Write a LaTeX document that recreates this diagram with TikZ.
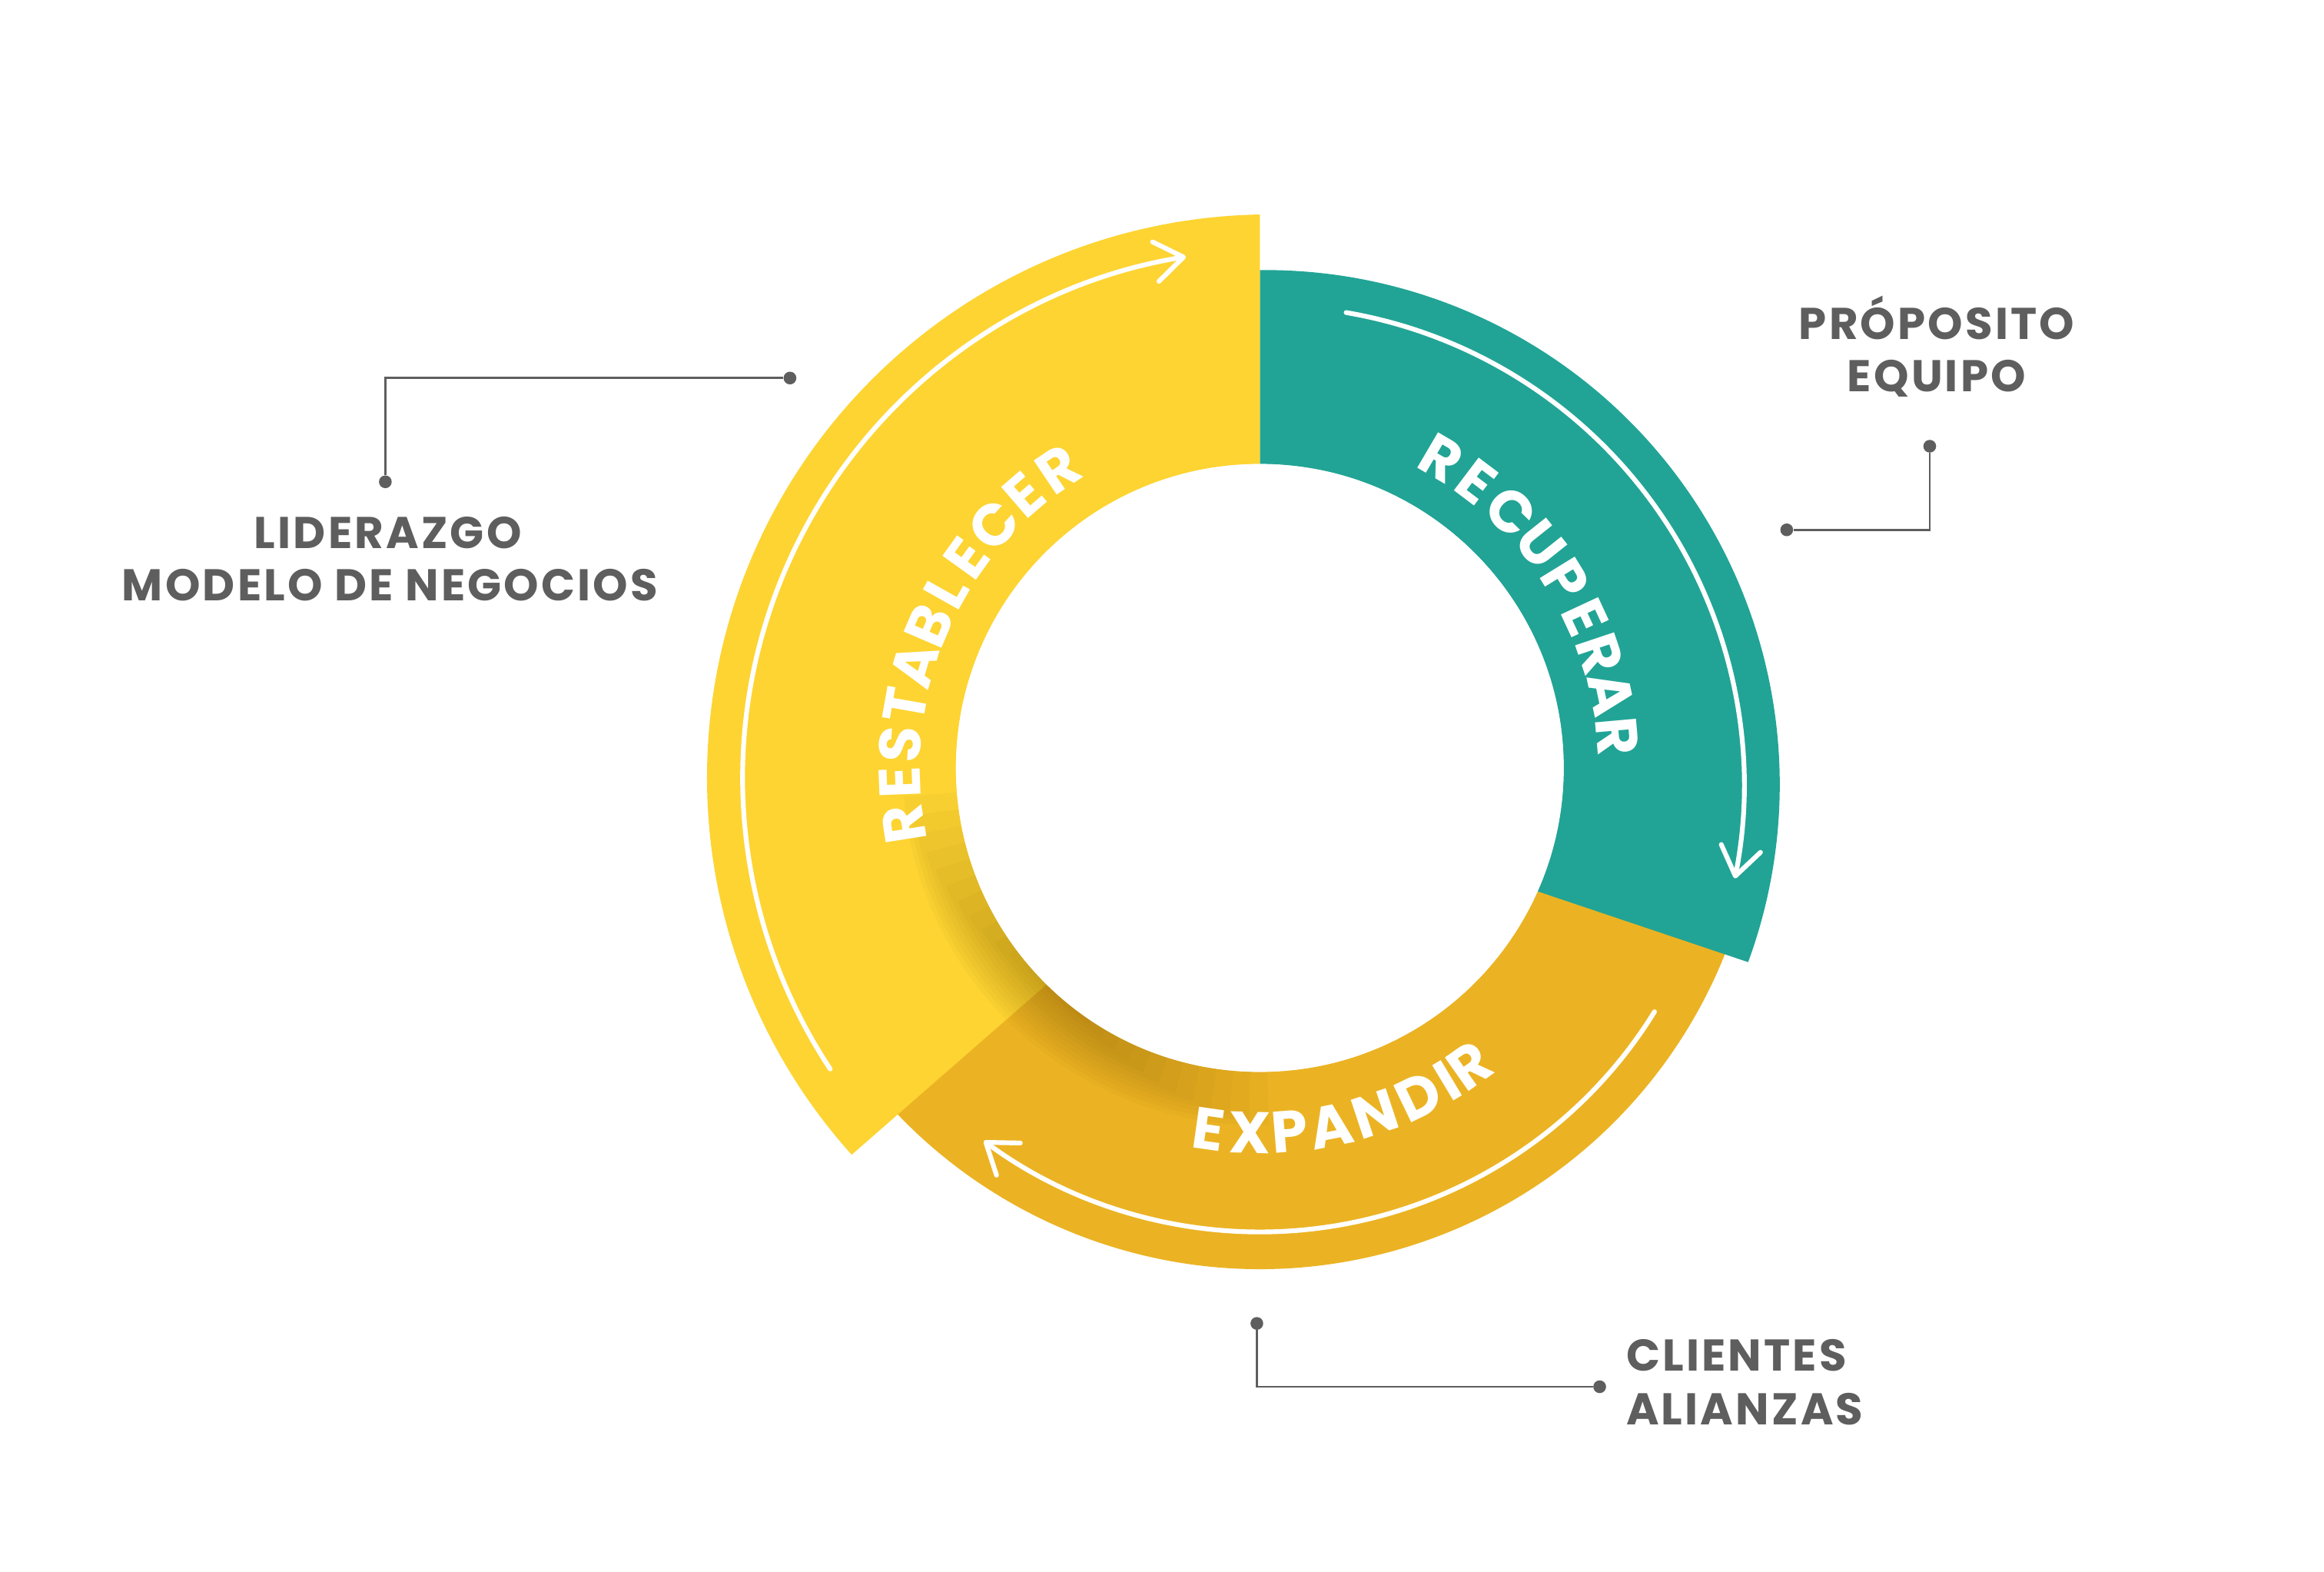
\documentclass[tikz,border=0pt]{standalone}
\usepackage{fontspec}
\usetikzlibrary{arrows.meta}
\newfontfamily\labelfont{Poppins}[LetterSpace=5.5]
\newfontfamily\arcfont{Poppins}
\definecolor{ringyellow}{HTML}{FDD432}
\definecolor{ringgold}{HTML}{EBB323}
\definecolor{ringteal}{HTML}{21A495}
\definecolor{labelgray}{HTML}{5E5E5E}
\definecolor{shadowc}{HTML}{6B4A00}
\begin{document}
\begin{tikzpicture}[x=1pt,y=1pt,
  labeltext/.style={text=labelgray, font=\labelfont\bfseries\fontsize{30}{36}\selectfont, inner sep=0pt},
  arcletter/.style={text=white, font=\arcfont\bfseries\fontsize{39.5}{40}\selectfont, inner sep=0pt, anchor=center},
  ringarrow/.style={draw=white, line width=3.2pt, line cap=round, -{Straight Barb[length=19pt,width=27pt,round]}},
  dotnode/.style={circle, fill=labelgray, inner sep=0pt, minimum size=8.6pt},
  leader/.style={draw=labelgray, line width=1.5pt}]

\useasboundingbox (-850,-542) rectangle (718,518);
\fill[white] (-850,-542) rectangle (718,518);

% centres
\coordinate (C) at (0,0);
\coordinate (Yc) at (7,-6.6);
\coordinate (Tc) at (3.8,-11.2);

% EXPANDIR segment (under the others)
\fill[ringgold] (C) -- (-160:338) arc[start angle=-160, end angle=-10, radius=338pt] -- cycle;

% RECUPERAR segment
\fill[ringteal] (C) -- (0,335.8) arc[start angle=90.63, end angle=-20.2, radius=347pt] -- (187.3,-83.2) -- cycle;

% RESTABLECER segment
\fill[ringyellow] (C) -- (0,373.3) arc[start angle=91.06, end angle=222, radius=380pt] -- (-130,-133.9) -- cycle;

% inner hole
\fill[white] (C) circle[radius=205pt];

% soft shadow along the inner edge
\foreach \j in {1,...,12} {
  \pgfmathsetmacro\w{205+3*(13-\j)}
  \pgfmathsetmacro\h{5+3.2*(13-\j)}
  \pgfmathsetmacro\sa{228-\h}
  \pgfmathsetmacro\ea{228+\h}
  \fill[shadowc, opacity=0.033] (\sa:205) arc[start angle=\sa, end angle=\ea, radius=205pt] -- (\ea:\w) arc[start angle=\ea, end angle=\sa, radius=\w pt] -- cycle;
}
\fill[white] (C) circle[radius=205pt];

% white arrows
\draw[ringarrow] (Yc) ++(213.5:356) arc[start angle=213.5, end angle=99.2, radius=356pt];
\draw[ringarrow] (Tc) ++(80.3:323) arc[start angle=80.3, end angle=-11.3, radius=323pt];
\draw[ringarrow] (C) ++(-31.7:313) arc[start angle=-31.7, end angle=-126.5, radius=313pt];

% words along the ring
\foreach \ch/\ang [count=\i] in {R/189, E/182.3, S/176.2, T/170, A/163.4, B/156.7, L/150.6, E/144.4, C/137.6, E/130.8, R/124}
  \node[arcletter, rotate=\ang-90] (rs\i) at (\ang:243) {\ch};
\foreach \ch/\ang [count=\i] in {R/59.6, E/52.9, C/45.6, U/38.5, P/31.6, E/24.9, R/18.5, A/11.9, R/5.1}
  \node[arcletter, rotate=\ang-90] (rc\i) at (\ang:242) {\ch};
\foreach \ch/\ang [count=\i] in {E/-98.1, X/-91.5, P/-85.3, A/-78.8, N/-71.6, D/-64.2, I/-59.0, R/-54.8}
  \node[arcletter, rotate=\ang+90] (ex\i) at (\ang:246) {\ch};

% labels
\node[labeltext, anchor=base] (lid1) at (-588.3,148.1) {LIDERAZGO};
\node[labeltext, anchor=base] (lid2) at (-586.8,112.7) {MODELO DE NEGOCIOS};
\node[labeltext, anchor=base] (pro1) at (456.7,289) {PRÓPOSITO};
\node[labeltext, anchor=base] (pro2) at (456.6,253.6) {EQUIPO};
\node[labeltext, anchor=base west] (cli1) at (247,-406.7) {CLIENTES};
\node[labeltext, anchor=base west] (cli2) at (247,-443) {ALIANZAS};

% leader lines
\node[dotnode] (da) at (-590,193) {};
\node[dotnode] (db) at (-317,263) {};
\draw[leader] (da) |- (db);
\node[dotnode] (dc) at (452,217) {};
\node[dotnode] (dd) at (355.5,160.6) {};
\draw[leader] (dc) |- (dd);
\node[dotnode] (de) at (-2,-374.7) {};
\node[dotnode] (df) at (229.3,-417.4) {};
\draw[leader] (de) |- (df);
\end{tikzpicture}
\end{document}
